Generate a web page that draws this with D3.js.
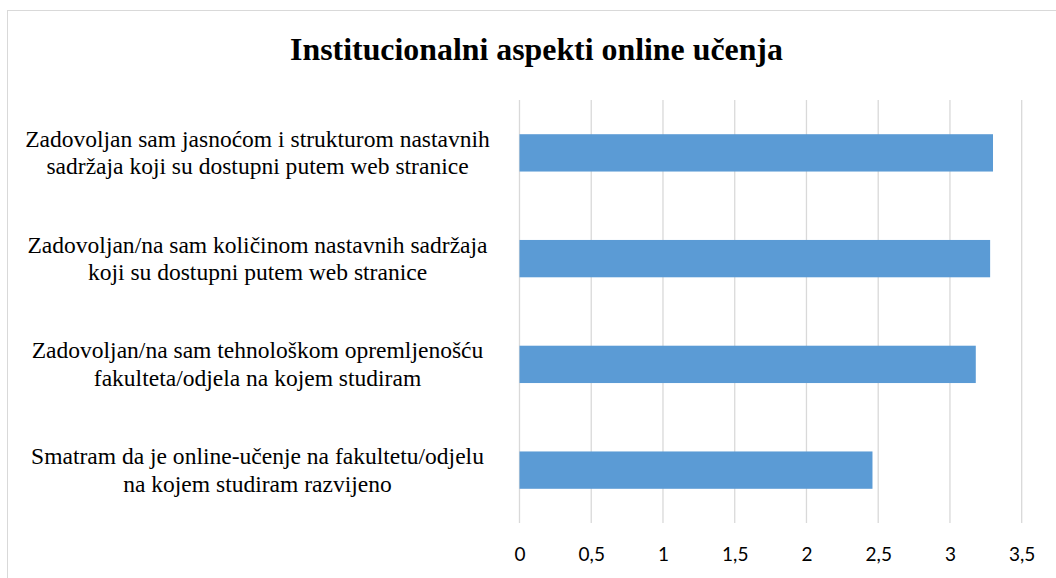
<!DOCTYPE html>
<html>
<head>
<meta charset="utf-8">
<script src="https://cdn.jsdelivr.net/npm/d3@7"></script>
<style>
  html, body { margin: 0; padding: 0; background: #fff; }
  svg { display: block; }
</style>
</head>
<body>
<svg id="chart" width="1056" height="578"></svg>
<script>
const title = "Institucionalni aspekti online učenja";
const categories = [
  "Zadovoljan sam jasnoćom i strukturom nastavnih\nsadržaja koji su dostupni putem web stranice",
  "Zadovoljan/na sam količinom nastavnih sadržaja\nkoji su dostupni putem web stranice",
  "Zadovoljan/na sam tehnološkom opremljenošću\nfakulteta/odjela na kojem studiram",
  "Smatram da je online-učenje na fakultetu/odjelu\nna kojem studiram razvijeno"
];
const values = [3.30, 3.28, 3.18, 2.46];
const ticks = [0, 0.5, 1, 1.5, 2, 2.5, 3, 3.5];
const tickLabels = ["0", "0,5", "1", "1,5", "2", "2,5", "3", "3,5"];

const svg = d3.select("#chart");
const serif = "'Liberation Serif', 'Times New Roman', serif";
const sans = "Lato, Carlito, 'Liberation Sans', sans-serif";

// chart frame
svg.append("rect")
  .attr("x", 7.5).attr("y", 10.5)
  .attr("width", 1070).attr("height", 590)
  .attr("fill", "#fff").attr("stroke", "#d9d9d9").attr("stroke-width", 1);

const x = d3.scaleLinear().domain([0, 3.5]).range([519.5, 1021.7]);
const y = d3.scaleBand().domain(d3.range(categories.length)).range([100, 523]).paddingInner(0.647).paddingOuter(0.3235);

// gridlines
svg.append("g").selectAll("line").data(ticks).join("line")
  .attr("x1", d => x(d)).attr("x2", d => x(d))
  .attr("y1", 100).attr("y2", 523)
  .attr("stroke", "#d9d9d9").attr("stroke-width", 1.3);

// bars
svg.append("g").selectAll("rect").data(values).join("rect")
  .attr("x", x(0))
  .attr("y", (d, i) => y(i))
  .attr("width", d => x(d) - x(0))
  .attr("height", y.bandwidth())
  .attr("fill", "#5b9bd5");

// x tick labels
const xAxis = d3.axisBottom(x).tickValues(ticks).tickFormat((d, i) => tickLabels[i]).tickSize(0).tickPadding(0);
const gx = svg.append("g").attr("transform", "translate(0,547)").call(xAxis);
gx.select(".domain").remove();
gx.selectAll("text").attr("font-family", sans).attr("font-size", 19).attr("fill", "#000").attr("dy", "0.75em");

// title
const t = svg.append("text")
  .attr("x", 536.5).attr("y", 59.5)
  .attr("text-anchor", "middle")
  .attr("font-family", serif).attr("font-weight", "bold")
  .attr("font-size", 30).attr("fill", "#000").text(title);
const tw = t.node().getComputedTextLength();
t.attr("font-size", 30 * 493 / tw);

// category labels
const probe = svg.append("text").attr("font-family", serif).attr("font-size", 20).text(categories[0].split("\n")[0]);
const pw = probe.node().getComputedTextLength();
probe.remove();
const lfs = 20 * 465 / pw;
const lineH = lfs * 1.16;
const lg = svg.append("g");
categories.forEach((c, i) => {
  const lines = c.split("\n");
  const cy = y(i) + y.bandwidth() / 2;
  const txt = lg.append("text")
    .attr("text-anchor", "middle")
    .attr("font-family", serif).attr("font-size", lfs).attr("fill", "#000");
  lines.forEach((ln, j) => {
    txt.append("tspan")
      .attr("x", 257.5)
      .attr("y", cy + (j - (lines.length - 1) / 2) * lineH)
      .attr("dy", "0.33em")
      .text(ln);
  });
});
</script>
</body>
</html>
